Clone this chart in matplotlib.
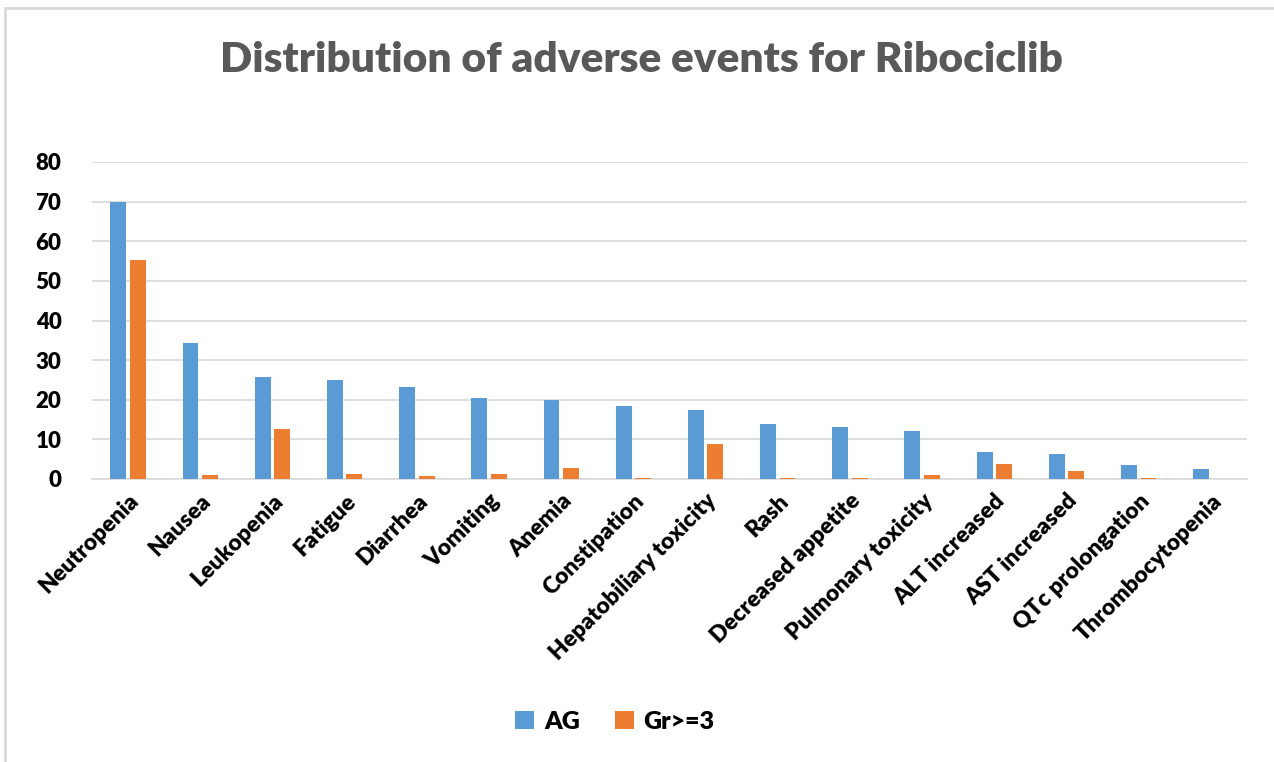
import numpy as np
import matplotlib.pyplot as plt
from matplotlib.patches import Rectangle

# ---------------------------- data -----------------------------------------
categories = ['Neutropenia', 'Nausea', 'Leukopenia', 'Fatigue', 'Diarrhea',
              'Vomiting', 'Anemia', 'Constipation', 'Hepatobiliary toxicity',
              'Rash', 'Decreased appetite', 'Pulmonary toxicity',
              'ALT increased', 'AST increased', 'QTc prolongation',
              'Thrombocytopenia']
ag_values = [70.0, 34.2, 25.8, 25.1, 23.3, 20.5, 19.9, 18.5, 17.4, 13.9,
             13.0, 12.0, 6.7, 6.4, 3.6, 2.4]
gr3_values = [55.3, 1.0, 12.6, 1.35, 0.7, 1.35, 2.9, 0.3, 8.9, 0.3, 0.3,
              1.0, 3.9, 1.9, 0.3, 0.0]
series_names = ['AG', 'Gr>=3']
y_ticks = [0, 10, 20, 30, 40, 50, 60, 70, 80]

BLUE = '#5B9BD5'
ORANGE = '#ED7D31'
FONT = ['Lato', 'DejaVu Sans']

plt.rcParams['font.family'] = FONT

fig = plt.figure(figsize=(12.74, 7.62), dpi=100)
ax = fig.add_axes([92 / 1274, 1 - 479 / 762, 1155 / 1274, 317 / 762])

x = np.arange(len(categories))
width = 0.22
gap = 0.05
ax.bar(x - width / 2 - gap / 2, ag_values, width, color=BLUE,
       linewidth=0, label=series_names[0], zorder=3)
ax.bar(x + width / 2 + gap / 2, gr3_values, width, color=ORANGE,
       linewidth=0, label=series_names[1], zorder=3)

ax.set_xlim(-0.5, len(categories) - 0.5)
ax.set_ylim(0, 80)
ax.set_yticks(y_ticks)
ax.set_yticklabels([str(v) for v in y_ticks], fontsize=16, fontweight='heavy')
ax.set_xticks(x)
ax.set_xticklabels(categories, rotation=45, ha='right', rotation_mode='anchor',
                   fontsize=16.5, fontweight='heavy')
ax.tick_params(axis='both', length=0)
ax.tick_params(axis='y', pad=22)
ax.tick_params(axis='x', pad=8)
ax.grid(axis='y', color='#D9D9D9', linewidth=1.2, zorder=0)
for side in ['top', 'right', 'left']:
    ax.spines[side].set_visible(False)
ax.spines['bottom'].set_color('#D9D9D9')
ax.spines['bottom'].set_linewidth(1.2)

fig.text(641 / 1274, 1 - 60 / 762, 'Distribution of adverse events for Ribociclib',
         ha='center', va='center', fontsize=30.5, fontweight='heavy', color='#595959')

leg = fig.legend(loc='center', bbox_to_anchor=(615 / 1274, 1 - 722 / 762),
                 ncol=2, frameon=False, handlelength=0.75,
                 handleheight=0.75, handletextpad=0.4, columnspacing=1.4,
                 prop={'weight': 'heavy', 'size': 18})

# thin frame around the chart area
fig.patches.append(Rectangle((5 / 1274, -0.01), 1.02, 1 - 8 / 762 + 0.01,
                             transform=fig.transFigure, fill=False,
                             edgecolor='#D9D9D9', linewidth=2))

fig.savefig('out.png', dpi=100)
